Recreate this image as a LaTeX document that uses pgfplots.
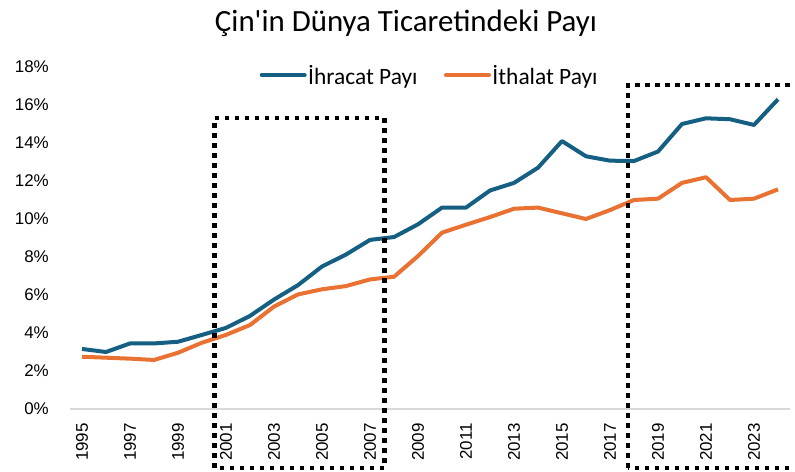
\documentclass[border=0pt]{standalone}
\usepackage{fontspec}
\setmainfont{Liberation Sans}
\newfontfamily\carlito{Carlito}
\usepackage{pgfplots}
\pgfplotsset{compat=1.18}
\usepackage{pgfplotstable}
\definecolor{expblue}{HTML}{156082}
\definecolor{imporange}{HTML}{E97132}
\definecolor{axgray}{HTML}{D9D9D9}

\pgfplotstableread{
year exp imp
1995 3.16 2.75
1996 3.00 2.70
1997 3.45 2.65
1998 3.45 2.58
1999 3.54 2.96
2000 3.90 3.49
2001 4.27 3.90
2002 4.90 4.42
2003 5.76 5.39
2004 6.52 6.03
2005 7.50 6.30
2006 8.13 6.47
2007 8.90 6.82
2008 9.05 6.96
2009 9.72 8.05
2010 10.60 9.28
2011 10.60 9.70
2012 11.50 10.10
2013 11.90 10.54
2014 12.70 10.60
2015 14.10 10.30
2016 13.30 10.00
2017 13.07 10.47
2018 13.05 11.00
2019 13.55 11.07
2020 15.00 11.90
2021 15.30 12.20
2022 15.25 11.00
2023 14.95 11.07
2024 16.30 11.56
}\datatable

\begin{document}
\begin{tikzpicture}
\begin{axis}[
  at={(70bp,63bp)}, anchor=south west,
  scale only axis,
  width=720bp, height=342bp,
  xmin=1994.5, xmax=2024.5,
  ymin=0, ymax=18,
  clip=false,
  axis x line*=bottom, axis y line*=left,
  x axis line style={draw=axgray, line width=1.5bp, -},
  y axis line style={draw=none},
  major tick length=0pt,
  xtick={1995,1997,...,2023},
  ytick={0,2,...,18},
  /pgf/number format/assume math mode=true,
  /pgf/number format/1000 sep={},
  xticklabel style={font=\fontsize{17}{20}\selectfont, rotate=90, anchor=east, inner sep=0pt},
  xticklabel shift=14bp,
  yticklabel={\pgfmathprintnumber{\tick}\%},
  yticklabel style={font=\fontsize{17}{20}\selectfont, anchor=east, inner sep=0pt},
  yticklabel shift=21bp,
  legend columns=2,
  legend cell align=left,
  legend style={at={(0.2632,0.976)}, anchor=west, draw=none, fill=none, inner sep=0pt,
    font=\carlito\fontsize{23.5}{27}\selectfont,
    nodes={inner sep=1.5bp},
    /tikz/every even column/.append style={column sep=25bp}},
  legend image code/.code={\draw[#1, line cap=round] (0bp,0bp) -- (43bp,0bp);},
]
\addplot[color=expblue, line width=4bp, line join=round] table[x=year, y=exp] {\datatable};
\addlegendentry{İhracat Payı}
\addplot[color=imporange, line width=4bp, line join=round] table[x=year, y=imp] {\datatable};
\addlegendentry{İthalat Payı}
\draw[black, line width=4.5bp, dash pattern=on 4.5bp off 5.5bp]
  (axis cs:2000.52,-3.1) rectangle (axis cs:2007.6,15.32);
\draw[black, line width=4.5bp, dash pattern=on 4.5bp off 5.5bp]
  (axis cs:2017.75,-3.1) rectangle (axis cs:2024.95,17.05);
\end{axis}
\node[anchor=base, font=\carlito\fontsize{31}{36}\selectfont, inner sep=0pt] at (406bp,440bp) {Çin'in Dünya Ticaretindeki Payı};
\pgfresetboundingbox
\path[use as bounding box] (0,0) rectangle (795bp,472bp);
\end{tikzpicture}
\end{document}
